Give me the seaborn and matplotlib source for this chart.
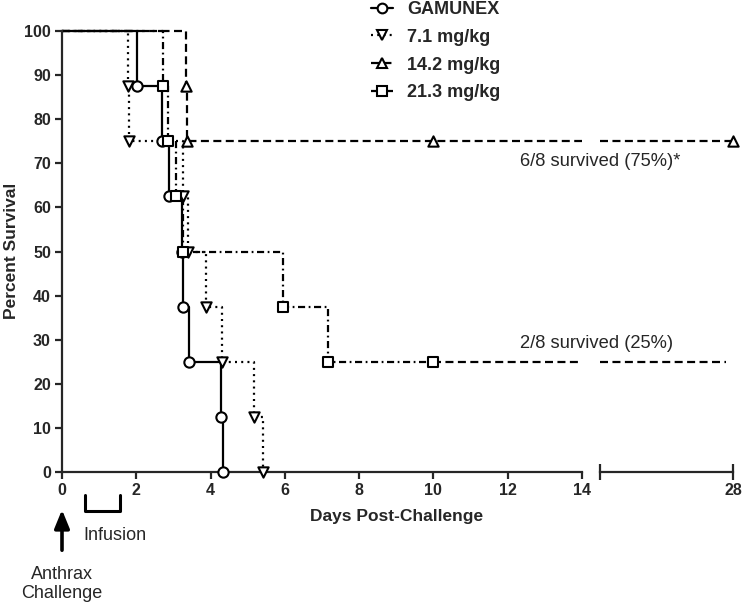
import matplotlib
matplotlib.use("Agg")
import matplotlib.pyplot as plt
import matplotlib.transforms as mtrans
from matplotlib.lines import Line2D
import numpy as np
import pandas as pd
import seaborn as sns

# survival data, 8 animals per group (days of death / censoring)
group_size = 8
gamunex_deaths = [2.02, 2.69, 2.88, 3.23, 3.26, 3.42, 4.28, 4.33]
mg71_deaths = [1.79, 1.81, 3.26, 3.40, 3.88, 4.30, 5.17, 5.41]
mg142_deaths = [3.35, 3.37]
mg142_censored = [10, 28]
mg213_deaths = [2.72, 2.86, 3.07, 3.26, 5.95, 7.16]
mg213_censored = [10]
mg213_end = 27.3

labels = ["GAMUNEX", "7.1 mg/kg", "14.2 mg/kg", "21.3 mg/kg"]
markers = ["o", "v", "^", "s"]
styles = ["-", (0, (0.9, 1.9)), (0, (3.6, 2.0)), (0, (3.2, 1.6, 0.8, 1.6))]

x_ticks = [0, 2, 4, 6, 8, 10, 12, 14]
y_ticks = [0, 10, 20, 30, 40, 50, 60, 70, 80, 90, 100]


def km_table(deaths, censored=(), end=None):
    ev = sorted([(t, 1) for t in deaths] + [(t, 0) for t in censored])
    s = 100.0
    rows = [(0.0, s, False)]
    for t, d in ev:
        if d:
            s -= 100.0 / group_size
        rows.append((t, s, True))
    if end is not None:
        rows.append((end, s, False))
    return pd.DataFrame(rows, columns=["day", "pct", "mark"])


def piece(df, lo, hi):
    # part of a step curve inside [lo, hi]
    if df["day"].max() < lo:
        return df.iloc[0:0]
    inside = df[(df["day"] >= lo) & (df["day"] <= hi)].copy()
    start = []
    before = df[df["day"] <= lo]
    if lo > 0 and len(before):
        start.append({"day": lo, "pct": before["pct"].iloc[-1], "mark": False})
    out = pd.DataFrame(start + inside.to_dict("records"))
    if df["day"].max() > hi:
        last = df[df["day"] <= hi]["pct"].iloc[-1]
        out = pd.concat([out, pd.DataFrame([{"day": hi, "pct": last, "mark": False}])])
    return out.reset_index(drop=True)


curves = [
    km_table(gamunex_deaths),
    km_table(mg71_deaths),
    km_table(mg142_deaths, mg142_censored),
    km_table(mg213_deaths, mg213_censored, mg213_end),
]

sns.set_style("ticks")
plt.rcParams["font.family"] = ["Liberation Sans", "DejaVu Sans"]
plt.rcParams["axes.linewidth"] = 1.6

fig = plt.figure(figsize=(7.42, 6.04), dpi=100)
ax1 = fig.add_axes([62 / 742, 1 - 472 / 604, 520 / 742, 441 / 604])
ax2 = fig.add_axes([600 / 742, 1 - 472 / 604, 133 / 742, 441 / 604])

for ax, (lo, hi) in [(ax1, (0, 14)), (ax2, (14, 28))]:
    for df, lab, mk, ls in zip(curves, labels, markers, styles):
        seg = piece(df, lo, hi)
        if len(seg) == 0:
            continue
        if lab == "21.3 mg/kg":
            # after the last censor mark the line is drawn dashed
            parts = [(seg[seg["day"] <= 10], ls), (seg[seg["day"] >= 10], styles[2])]
        else:
            parts = [(seg, ls)]
        for p, pls in parts:
            if len(p) < 2:
                continue
            sns.lineplot(data=p, x="day", y="pct", ax=ax, color="black",
                         estimator=None, sort=False, drawstyle="steps-post",
                         linewidth=1.6, linestyle=pls, clip_on=False)
        m = seg[seg["mark"]]
        if len(m):
            sns.scatterplot(data=m, x="day", y="pct", ax=ax, marker=mk, s=55,
                            color="white", edgecolor="black", linewidth=1.5,
                            clip_on=False, zorder=5)
    ax.set_xlim(lo, hi)
    ax.set_ylim(0, 100)
    ax.set_xlabel("")
    ax.set_ylabel("")
    sns.despine(ax=ax)

ax1.set_xticks(x_ticks)
ax1.set_xticklabels([str(t) for t in x_ticks])
ax1.set_xticks([14], minor=True)
ax1.set_yticks(y_ticks)
ax1.set_yticklabels([str(t) for t in y_ticks])
ax1.tick_params(axis="both", which="major", direction="out", length=5, width=1.6,
                labelsize=11.5, pad=3)
ax1.tick_params(axis="x", which="minor", direction="inout", length=11, width=1.6)

ax2.spines["left"].set_visible(False)
ax2.set_yticks([])
ax2.set_xticks([28])
ax2.set_xticklabels(["28"])
ax2.set_xticks([14], minor=True)
ax2.tick_params(axis="x", which="major", direction="inout", length=11, width=1.6,
                labelsize=11.5, pad=2.5)
ax2.tick_params(axis="x", which="minor", direction="inout", length=11, width=1.6)

for ax in (ax1, ax2):
    for t in ax.get_xticklabels() + ax.get_yticklabels():
        t.set_fontweight("bold")

fig.text(397 / 742, 1 - 517 / 604, "Days Post-Challenge", ha="center", va="center",
         fontsize=12.5, fontweight="bold")
fig.text(12 / 742, 1 - 251 / 604, "Percent Survival", ha="center", va="center",
         rotation=90, fontsize=12.5, fontweight="bold")

fig.text(520 / 742, 1 - 162 / 604, "6/8 survived (75%)*", ha="left", va="center",
         fontsize=13.2)
fig.text(520 / 742, 1 - 344 / 604, "2/8 survived (25%)", ha="left", va="center",
         fontsize=13.2)

# infusion bracket and challenge arrow below the axis
tr = mtrans.blended_transform_factory(ax1.transData, fig.transFigure)
inf_start, inf_end = 0.62, 1.56
ax1.plot([inf_start, inf_start, inf_end, inf_end],
         [1 - 495 / 604, 1 - 511 / 604, 1 - 511 / 604, 1 - 495 / 604],
         transform=tr, color="black", lw=2.2, clip_on=False)
fig.text(83 / 742, 1 - 535 / 604, "Infusion", ha="left", va="center", fontsize=13)
ax1.annotate("", xy=(0, 1 - 507 / 604), xytext=(0, 1 - 553 / 604),
             xycoords=tr, textcoords=tr,
             arrowprops=dict(arrowstyle="-|>,head_length=1.1,head_width=0.45",
                             color="black", lw=2.6))
ax1.text(0, 1 - 584 / 604, "Anthrax\nChallenge", transform=tr, ha="center",
         va="center", fontsize=13, linespacing=1.15)

handles = [Line2D([], [], color="black", linestyle=ls, linewidth=1.6, marker=mk,
                  markersize=7, markerfacecolor="white", markeredgecolor="black",
                  markeredgewidth=1.5)
           for mk, ls in zip(markers, styles)]
fig.legend(handles, labels, loc="upper left", bbox_to_anchor=(370 / 742, 1.0),
           frameon=False, prop=dict(weight="bold", size=13), handlelength=1.25,
           handletextpad=0.75, labelspacing=0.6, borderpad=0.05, borderaxespad=0)

fig.savefig("out.png", dpi=100)
